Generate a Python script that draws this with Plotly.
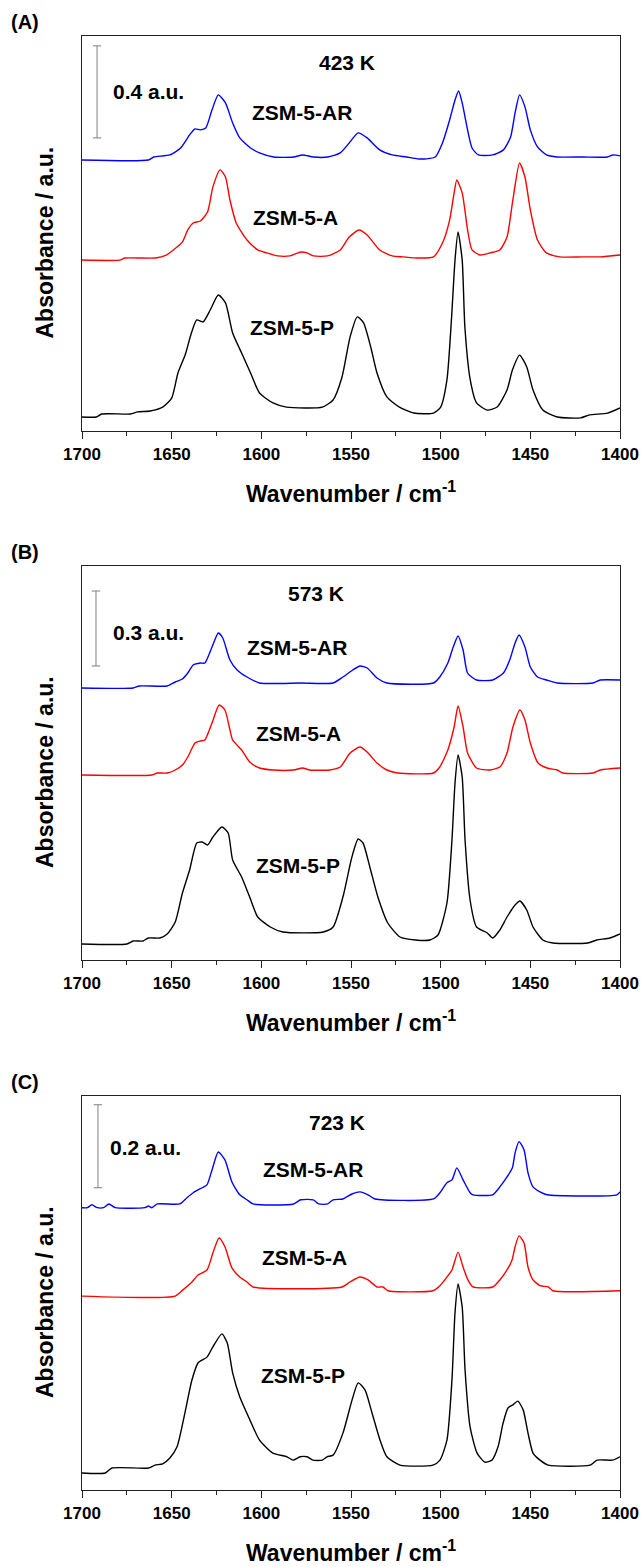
import plotly.graph_objects as go

# ---------------- Panel (A): 423 K ----------------
a_ar_wn = [1700, 1663, 1660, 1651, 1645, 1640, 1637, 1634, 1631, 1627.5, 1624, 1620, 1616, 1612, 1606, 1601, 1593, 1582, 1577, 1571,
           1563, 1556, 1551, 1546, 1541, 1534, 1527, 1519, 1513, 1508, 1503, 1499, 1495, 1492, 1490, 1488, 1485, 1482.5, 1479, 1471,
           1465, 1461, 1458.5, 1456, 1453, 1450, 1446, 1441, 1435, 1421, 1407, 1404, 1400]
a_ar_abs = [1.178, 1.178, 1.191, 1.200, 1.230, 1.287, 1.313, 1.309, 1.317, 1.396, 1.461, 1.426, 1.339, 1.274, 1.230, 1.209, 1.191, 1.191, 1.200, 1.191,
            1.191, 1.209, 1.252, 1.296, 1.274, 1.222, 1.200, 1.191, 1.183, 1.183, 1.191, 1.252, 1.352, 1.439, 1.478, 1.426, 1.309, 1.230, 1.200, 1.200,
            1.222, 1.278, 1.383, 1.461, 1.409, 1.309, 1.235, 1.200, 1.191, 1.191, 1.191, 1.200, 1.196]

a_a_wn = [1700, 1679, 1676, 1659, 1653, 1649, 1644, 1641, 1638, 1634, 1630, 1627, 1623, 1620, 1617.5, 1614, 1608, 1602, 1597, 1591,
          1584, 1578, 1574.5, 1571, 1563, 1556, 1551, 1545.5, 1541, 1534, 1527, 1521, 1513, 1504, 1499, 1495, 1492.5, 1491, 1488, 1485,
          1482.5, 1478, 1472.5, 1467, 1463, 1460, 1456, 1453, 1450, 1446, 1441, 1433.5, 1421, 1411, 1400]
a_a_abs = [0.743, 0.743, 0.752, 0.752, 0.765, 0.787, 0.822, 0.874, 0.904, 0.913, 0.952, 1.061, 1.135, 1.104, 1.004, 0.904, 0.830, 0.787, 0.774, 0.761,
           0.761, 0.778, 0.774, 0.761, 0.761, 0.787, 0.843, 0.874, 0.852, 0.787, 0.761, 0.757, 0.752, 0.757, 0.817, 0.917, 1.035, 1.091, 1.035, 0.874,
           0.787, 0.765, 0.774, 0.787, 0.843, 0.991, 1.165, 1.104, 0.961, 0.830, 0.774, 0.757, 0.757, 0.757, 0.765]

a_p_wn = [1700, 1692, 1689, 1673, 1669, 1662, 1655, 1650, 1646.5, 1642.5, 1639, 1636, 1632.5, 1628.5, 1624, 1620, 1616, 1611, 1606, 1601,
          1593.5, 1586, 1566, 1560, 1555, 1550.5, 1546.5, 1543, 1539, 1535.5, 1530, 1523, 1515, 1504, 1500, 1496.5, 1494, 1492, 1490.3, 1488,
          1486.5, 1483.5, 1480, 1474, 1468.5, 1463, 1460, 1456, 1452, 1448.5, 1443, 1435, 1422, 1417, 1407, 1400]
a_p_abs = [0.061, 0.061, 0.074, 0.074, 0.083, 0.087, 0.104, 0.143, 0.252, 0.330, 0.426, 0.483, 0.474, 0.526, 0.591, 0.557, 0.426, 0.339, 0.252, 0.165,
           0.122, 0.104, 0.104, 0.135, 0.235, 0.409, 0.496, 0.470, 0.365, 0.252, 0.148, 0.104, 0.078, 0.078, 0.104, 0.222, 0.483, 0.743, 0.865, 0.743,
           0.452, 0.222, 0.122, 0.091, 0.104, 0.178, 0.265, 0.330, 0.278, 0.178, 0.091, 0.061, 0.057, 0.070, 0.078, 0.100]

# ---------------- Panel (B): 573 K ----------------
b_ar_wn = [1700, 1671.5, 1668, 1652.5, 1648, 1644, 1641, 1638, 1634, 1631.5, 1627.5, 1624, 1621.5, 1617.5, 1613.5, 1608, 1601, 1578, 1560, 1554.5,
           1549, 1545, 1541, 1535.5, 1530, 1504, 1500.5, 1496, 1493, 1490.3, 1487.5, 1485, 1480, 1471, 1465, 1461.5, 1458.5, 1456.3, 1453, 1450,
           1446, 1441, 1435, 1415, 1411, 1400]
b_ar_abs = [1.088, 1.088, 1.096, 1.096, 1.112, 1.124, 1.148, 1.180, 1.188, 1.188, 1.252, 1.308, 1.288, 1.200, 1.160, 1.132, 1.108, 1.108, 1.108, 1.132,
            1.160, 1.176, 1.168, 1.128, 1.108, 1.108, 1.132, 1.188, 1.252, 1.296, 1.240, 1.148, 1.120, 1.120, 1.148, 1.200, 1.268, 1.300, 1.252, 1.172,
            1.132, 1.120, 1.108, 1.108, 1.120, 1.120]

b_a_wn = [1700, 1661, 1658, 1652.5, 1648, 1644, 1641, 1637, 1634, 1631.5, 1627.5, 1623.5, 1620.3, 1617.5, 1616, 1611, 1606.5, 1601, 1593.5, 1582,
          1577, 1573, 1562, 1556, 1550.5, 1545, 1541, 1535.5, 1530, 1524, 1504, 1500.5, 1496, 1492.5, 1490.3, 1487.5, 1485, 1480, 1472.5, 1467,
          1463, 1459.7, 1455.8, 1453, 1450, 1445.7, 1440.7, 1435, 1432, 1415, 1411, 1400]
b_a_abs = [0.740, 0.740, 0.748, 0.748, 0.760, 0.780, 0.812, 0.868, 0.876, 0.880, 0.948, 1.020, 1.000, 0.920, 0.880, 0.840, 0.792, 0.768, 0.760, 0.760,
           0.768, 0.760, 0.760, 0.772, 0.828, 0.852, 0.832, 0.788, 0.760, 0.748, 0.748, 0.772, 0.840, 0.932, 1.016, 0.932, 0.828, 0.768, 0.760, 0.772,
           0.828, 0.932, 1.000, 0.960, 0.868, 0.788, 0.768, 0.760, 0.748, 0.748, 0.760, 0.768]

b_p_wn = [1700, 1675, 1671.5, 1666, 1663, 1656.5, 1652.5, 1648, 1644, 1640, 1636, 1633, 1630, 1627, 1622, 1618.5, 1616, 1611, 1606.5, 1602,
          1595, 1588, 1565.5, 1560, 1554.5, 1549.5, 1546, 1543.3, 1539.5, 1535, 1529.5, 1522.7, 1514, 1506, 1501.5, 1496.5, 1493.7, 1492, 1490.3, 1488,
          1486.4, 1483.6, 1480, 1474, 1471, 1467, 1463, 1458.5, 1455.8, 1452, 1448.5, 1443, 1437.4, 1418, 1413, 1405.6, 1400]
b_p_abs = [0.064, 0.064, 0.076, 0.076, 0.088, 0.088, 0.104, 0.152, 0.268, 0.360, 0.468, 0.472, 0.460, 0.492, 0.532, 0.508, 0.400, 0.332, 0.252, 0.172,
           0.132, 0.112, 0.112, 0.132, 0.252, 0.412, 0.484, 0.468, 0.372, 0.252, 0.148, 0.092, 0.080, 0.080, 0.100, 0.228, 0.480, 0.708, 0.820, 0.732,
           0.480, 0.240, 0.132, 0.108, 0.088, 0.120, 0.172, 0.220, 0.236, 0.200, 0.132, 0.080, 0.068, 0.068, 0.080, 0.088, 0.104]

# ---------------- Panel (C): 723 K ----------------
c_ar_wn = [1700, 1697, 1694.5, 1691.5, 1688, 1685, 1681.5, 1665, 1663, 1661, 1658, 1645.5, 1641.5, 1638, 1633, 1630.3, 1627.5, 1624, 1620.3, 1616.4,
           1612, 1608, 1604.6, 1582, 1578, 1571, 1568, 1563, 1560, 1554.5, 1549.5, 1545, 1540.5, 1536.6, 1504, 1500.4, 1496.5, 1493.7, 1491, 1487.5,
           1483.6, 1482, 1471, 1467, 1463, 1460, 1458.5, 1456.3, 1453.5, 1451.3, 1448.5, 1444.6, 1440.7, 1401.7, 1400]
c_ar_abs = [0.680, 0.680, 0.687, 0.680, 0.680, 0.689, 0.680, 0.680, 0.684, 0.680, 0.689, 0.689, 0.704, 0.716, 0.728, 0.735, 0.771, 0.814, 0.795, 0.742,
            0.711, 0.699, 0.689, 0.689, 0.699, 0.699, 0.689, 0.689, 0.699, 0.701, 0.713, 0.718, 0.711, 0.701, 0.701, 0.716, 0.740, 0.747, 0.776, 0.747,
            0.716, 0.711, 0.711, 0.730, 0.754, 0.776, 0.812, 0.839, 0.819, 0.764, 0.730, 0.718, 0.711, 0.711, 0.718]

c_a_wn = [1700, 1648, 1643.7, 1638.7, 1635.3, 1630.3, 1627, 1623.6, 1620.3, 1616.4, 1612, 1608, 1604.6, 1555, 1550.6, 1545, 1540.5, 1535.5, 1532.2, 1529.4,
          1504.3, 1500.4, 1496.5, 1493.7, 1490.3, 1487.5, 1484.8, 1482, 1471, 1467, 1463, 1460.2, 1458.5, 1456.3, 1453.5, 1451.3, 1448.5, 1444.6, 1440, 1437.4,
          1400]
c_a_abs = [0.467, 0.467, 0.482, 0.501, 0.518, 0.530, 0.571, 0.607, 0.586, 0.535, 0.513, 0.501, 0.489, 0.489, 0.501, 0.513, 0.506, 0.489, 0.489, 0.480,
           0.480, 0.492, 0.513, 0.530, 0.573, 0.537, 0.506, 0.489, 0.489, 0.506, 0.530, 0.554, 0.586, 0.612, 0.595, 0.537, 0.506, 0.492, 0.489, 0.480,
           0.480]

c_p_wn = [1700, 1687, 1683.3, 1663, 1659.3, 1655, 1651, 1647, 1642.6, 1638.7, 1635.3, 1630.3, 1627, 1622, 1619, 1616, 1612, 1606.4, 1601, 1593.5,
          1585.7, 1582.3, 1578.4, 1574.5, 1571.2, 1566, 1563.4, 1560, 1554.5, 1549.4, 1546, 1542.2, 1538.3, 1533.8, 1530, 1522.7, 1504.3, 1500.4, 1496.5, 1493.7,
          1492, 1490.3, 1488, 1486.4, 1483.6, 1479.7, 1475.3, 1471.4, 1468, 1465.2, 1462.4, 1459.7, 1457, 1454, 1451.3, 1448.5, 1444.6, 1440, 1416.7, 1412.8,
          1404, 1400]
c_p_abs = [0.041, 0.041, 0.053, 0.053, 0.060, 0.063, 0.077, 0.104, 0.186, 0.265, 0.306, 0.320, 0.345, 0.376, 0.354, 0.282, 0.224, 0.169, 0.120, 0.089,
           0.080, 0.072, 0.080, 0.080, 0.072, 0.072, 0.080, 0.084, 0.137, 0.217, 0.258, 0.241, 0.186, 0.120, 0.080, 0.060, 0.060, 0.072, 0.120, 0.265,
           0.427, 0.496, 0.441, 0.289, 0.152, 0.089, 0.067, 0.072, 0.104, 0.161, 0.198, 0.205, 0.214, 0.193, 0.137, 0.089, 0.072, 0.060, 0.060, 0.072,
           0.072, 0.080]

# Sample names, colours and panel metadata
sample_names = ["ZSM-5-AR", "ZSM-5-A", "ZSM-5-P"]
sample_colors = ["#0000FF", "#FF0000", "#000000"]
panel_letters = ["(A)", "(B)", "(C)"]
temperatures = ["423 K", "573 K", "723 K"]
scale_bar_values = [0.4, 0.3, 0.2]
y_tops = [1.717, 1.576, 0.949]          # upper limit of each absorbance axis
scale_bar_bottoms = [1.274, 1.176, 0.728]
x_ticks = [1700, 1650, 1600, 1550, 1500, 1450, 1400]
x_minor = [1675, 1625, 1575, 1525, 1475, 1425]

panel_spectra = [
    [(a_ar_wn, a_ar_abs), (a_a_wn, a_a_abs), (a_p_wn, a_p_abs)],
    [(b_ar_wn, b_ar_abs), (b_a_wn, b_a_abs), (b_p_wn, b_p_abs)],
    [(c_ar_wn, c_ar_abs), (c_a_wn, c_a_abs), (c_p_wn, c_p_abs)],
]

# label placement (wavenumber, absorbance) per panel
name_pos = [
    [(1577.3, 1.383), (1581.2, 0.930), (1582.9, 0.448)],
    [(1580.1, 1.252), (1579.0, 0.908), (1579.6, 0.380)],
    [(1571.2, 0.771), (1576.2, 0.561), (1576.8, 0.277)],
]
temp_pos = [(1552.2, 1.600), (1569.5, 1.468), (1557.8, 0.884)]
bar_x = [1691.6, 1692.2, 1691.1]
bar_text_pos = [(1683.8, 1.474), (1683.8, 1.312), (1685.5, 0.824)]

# figure geometry
W, H = 641, 1567
ML, MR, MT, MB = 82, 21, 36, 77
plot_h = H - MT - MB
panel_px = [(36, 431), (566, 960), (1096, 1490)]   # top / bottom of each frame


def py(px):
    return (H - MB - px) / plot_h


def pxx(px):
    return (px - ML) / (W - ML - MR)


FONT = "Liberation Sans, Arial, sans-serif"
AXC = "#222222"

fig = go.Figure()
layout = dict(
    width=W, height=H,
    margin=dict(l=ML, r=MR, t=MT, b=MB, autoexpand=False),
    paper_bgcolor="white", plot_bgcolor="white",
    showlegend=False,
    font=dict(family=FONT, color="black"),
)
annotations = []

for i in range(3):
    sfx = "" if i == 0 else str(i + 1)
    xa, ya = "x" + sfx, "y" + sfx
    top_px, bot_px = panel_px[i]

    for j, (wn, ab) in enumerate(panel_spectra[i]):
        fig.add_trace(go.Scatter(
            x=wn, y=ab, mode="lines", xaxis=xa, yaxis=ya,
            line=dict(color=sample_colors[j], width=1.4, shape="spline", smoothing=0.6),
            name=sample_names[j], hoverinfo="skip"))
        nx, ny = name_pos[i][j]
        annotations.append(dict(x=nx, y=ny, xref=xa, yref=ya, text=sample_names[j],
                                showarrow=False, font=dict(size=21, family=FONT, weight="bold"),
                                xanchor="center", yanchor="middle"))

    # absorbance scale bar
    y0 = scale_bar_bottoms[i]
    y1 = y0 + scale_bar_values[i]
    fig.add_trace(go.Scatter(
        x=[bar_x[i], bar_x[i]], y=[y0, y1], mode="lines+markers", xaxis=xa, yaxis=ya,
        line=dict(color="#7f7f7f", width=1),
        marker=dict(symbol="line-ew", size=6, line=dict(color="#7f7f7f", width=1)),
        hoverinfo="skip"))
    tx, ty = bar_text_pos[i]
    annotations.append(dict(x=tx, y=ty, xref=xa, yref=ya, text=f"{scale_bar_values[i]} a.u.",
                            showarrow=False, font=dict(size=21, family=FONT, weight="bold"),
                            xanchor="left", yanchor="middle"))
    ttx, tty = temp_pos[i]
    annotations.append(dict(x=ttx, y=tty, xref=xa, yref=ya, text=temperatures[i],
                            showarrow=False, font=dict(size=21, family=FONT, weight="bold"),
                            xanchor="center", yanchor="middle"))

    # panel letter, axis titles
    annotations.append(dict(x=pxx(25), y=py(top_px - 14), xref="paper", yref="paper",
                            text=panel_letters[i], showarrow=False,
                            font=dict(size=20, family=FONT, weight="bold"),
                            xanchor="center", yanchor="middle"))
    annotations.append(dict(x=pxx(351), y=py(bot_px + 61), xref="paper", yref="paper",
                            text="Wavenumber / cm<sup>-1</sup>", showarrow=False,
                            font=dict(size=23, family=FONT, weight="bold"),
                            xanchor="center", yanchor="middle"))
    annotations.append(dict(x=pxx(45), y=py((top_px + bot_px) / 2 + 9), xref="paper", yref="paper",
                            text="Absorbance / a.u.", showarrow=False, textangle=-90,
                            font=dict(size=23, family=FONT, weight="bold"),
                            xanchor="center", yanchor="middle"))

    layout["xaxis" + sfx] = dict(
        domain=[0, 1], anchor=ya, range=[1700, 1400], automargin=False,
        tickmode="array", tickvals=x_ticks, ticktext=[str(t) for t in x_ticks],
        ticks="outside", ticklen=7, tickwidth=1.3, tickcolor=AXC,
        minor=dict(tickmode="array", tickvals=x_minor, ticks="outside", ticklen=4,
                   tickwidth=1.3, tickcolor=AXC, showgrid=False),
        tickfont=dict(size=17, family=FONT, weight="bold", color="black"),
        showline=True, linecolor=AXC, linewidth=1.4, mirror=True,
        showgrid=False, zeroline=False, fixedrange=True)
    layout["yaxis" + sfx] = dict(
        domain=[py(bot_px), py(top_px)], anchor=xa, range=[0, y_tops[i]], automargin=False,
        showticklabels=False, ticks="",
        showline=True, linecolor=AXC, linewidth=1.4, mirror=True,
        showgrid=False, zeroline=False, fixedrange=True)

layout["annotations"] = annotations
fig.update_layout(**layout)
fig.write_html("out.html")
